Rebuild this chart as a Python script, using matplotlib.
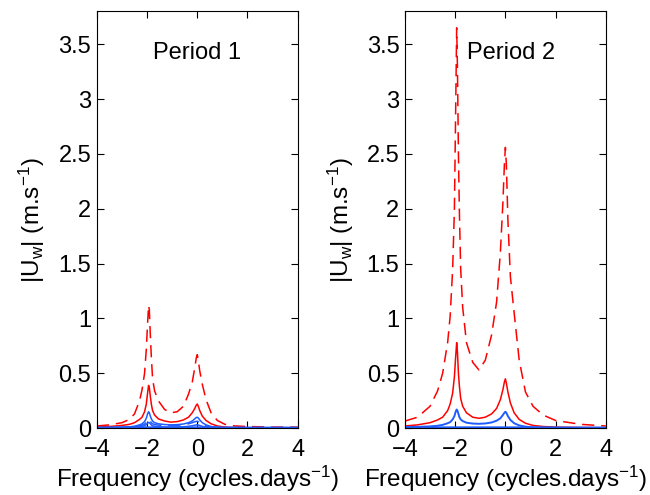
import matplotlib
matplotlib.use("Agg")
import matplotlib.pyplot as plt

plt.rcParams['font.family'] = ['Liberation Sans', 'DejaVu Sans']
plt.rcParams['mathtext.default'] = 'regular'

# frequency grid (cycles/day), dense around the two peaks
freq = [-4, -3.5, -3, -2.7, -2.5, -2.3, -2.2, -2.1, -2.03, -1.98, -1.94, -1.91,
        -1.87, -1.83, -1.78, -1.7, -1.55, -1.3, -1.05, -0.8, -0.55, -0.35, -0.2,
        -0.1, -0.04, 0, 0.04, 0.1, 0.2, 0.35, 0.55, 0.8, 1.1, 1.5, 2, 3, 4]

# Period 1
p1_red_dash = [0.02, 0.03, 0.05, 0.08, 0.13, 0.25, 0.35, 0.5, 0.72, 0.95, 1.12, 1.08,
               0.85, 0.65, 0.45, 0.34, 0.25, 0.17, 0.14, 0.15, 0.2, 0.31, 0.42,
               0.55, 0.64, 0.67, 0.62, 0.52, 0.4, 0.26, 0.14, 0.07, 0.035, 0.02, 0.015, 0.01, 0.01]
p1_red = [0.01, 0.015, 0.025, 0.035, 0.05, 0.08, 0.1, 0.15, 0.22, 0.32, 0.39, 0.37,
          0.29, 0.22, 0.16, 0.12, 0.085, 0.065, 0.055, 0.06, 0.075, 0.1, 0.14,
          0.18, 0.21, 0.22, 0.2, 0.16, 0.11, 0.07, 0.04, 0.02, 0.01, 0.006, 0.004, 0.003, 0.002]
p1_blue = [0.004, 0.005, 0.008, 0.012, 0.018, 0.03, 0.04, 0.06, 0.09, 0.13, 0.15, 0.14,
           0.11, 0.085, 0.065, 0.05, 0.04, 0.033, 0.03, 0.032, 0.038, 0.05, 0.065,
           0.085, 0.097, 0.1, 0.093, 0.075, 0.05, 0.03, 0.015, 0.008, 0.004, 0.003, 0.002, 0.001, 0.001]
p1_blue_dash = [0.003, 0.004, 0.006, 0.009, 0.013, 0.02, 0.027, 0.037, 0.052, 0.07, 0.08, 0.077,
                0.062, 0.05, 0.04, 0.033, 0.028, 0.025, 0.024, 0.026, 0.031, 0.04, 0.05,
                0.058, 0.062, 0.063, 0.059, 0.048, 0.033, 0.02, 0.01, 0.005, 0.003, 0.002, 0.001, 0.001, 0.001]
p1_blue_low = [0.002, 0.003, 0.004, 0.006, 0.008, 0.012, 0.016, 0.022, 0.032, 0.045, 0.052, 0.05,
               0.04, 0.03, 0.022, 0.017, 0.013, 0.011, 0.01, 0.011, 0.013, 0.017, 0.022,
               0.027, 0.03, 0.031, 0.029, 0.024, 0.017, 0.01, 0.006, 0.003, 0.002, 0.001, 0.001, 0.001, 0.001]

# Period 2
p2_red_dash = [0.065, 0.1, 0.2, 0.34, 0.5, 0.78, 1.02, 1.45, 2.0, 2.9, 3.65, 3.3,
               2.5, 1.95, 1.45, 1.1, 0.78, 0.6, 0.53, 0.62, 0.85, 1.15, 1.6,
               2.05, 2.4, 2.56, 2.4, 1.9, 1.38, 1.05, 0.62, 0.33, 0.2, 0.12, 0.07, 0.035, 0.02]
p2_red = [0.02, 0.03, 0.05, 0.075, 0.1, 0.16, 0.22, 0.32, 0.47, 0.65, 0.78, 0.7,
          0.5, 0.38, 0.27, 0.2, 0.14, 0.1, 0.09, 0.1, 0.13, 0.18, 0.26,
          0.35, 0.42, 0.45, 0.41, 0.33, 0.23, 0.14, 0.08, 0.045, 0.025, 0.015, 0.01, 0.006, 0.004]
p2_blue = [0.01, 0.012, 0.016, 0.022, 0.03, 0.045, 0.055, 0.08, 0.11, 0.15, 0.17, 0.16,
           0.13, 0.1, 0.08, 0.065, 0.05, 0.042, 0.04, 0.043, 0.052, 0.068, 0.09,
           0.12, 0.14, 0.15, 0.14, 0.11, 0.075, 0.045, 0.025, 0.014, 0.008, 0.005, 0.003, 0.002, 0.001]

# near-zero blue curve seen along the bottom of both panels
base_freq = [-4, -2, 0, 2, 4]
base_vals = [0.003, 0.004, 0.004, 0.002, 0.002]

red = '#ff0000'
blue = '#1f5cff'
dash = (0, (8, 4.5))

fig = plt.figure(figsize=(6.5, 4.95), dpi=100)
ax1 = fig.add_axes([0.149, 0.135, 0.309, 0.842])
ax2 = fig.add_axes([0.623, 0.135, 0.309, 0.842])

ax1.plot(freq, p1_red_dash, color=red, ls=dash, lw=1.1)
ax1.plot(freq, p1_red, color=red, lw=1.1)
ax1.plot(freq, p1_blue, color=blue, lw=1.1)
ax1.plot(freq, p1_blue_dash, color=blue, ls=dash, lw=1.1)
ax1.plot(freq, p1_blue_low, color=blue, lw=1.1)
ax1.plot(base_freq, base_vals, color=blue, lw=2)

ax2.plot(freq, p2_red_dash, color=red, ls=dash, lw=1.1)
ax2.plot(freq, p2_red, color=red, lw=1.1)
ax2.plot(freq, p2_blue, color=blue, lw=1.4)
ax2.plot(base_freq, base_vals, color=blue, lw=2)

for ax, title, tx in [(ax1, 'Period 1', 0.0), (ax2, 'Period 2', 0.22)]:
    ax.set_xlim(-4, 4)
    ax.set_ylim(0, 3.8)
    ax.set_xticks([-4, -2, 0, 2, 4])
    ax.set_yticks([0, 0.5, 1, 1.5, 2, 2.5, 3, 3.5])
    ax.set_yticklabels(['0', '0.5', '1', '1.5', '2', '2.5', '3', '3.5'])
    ax.tick_params(direction='in', top=True, right=True, length=5, width=0.8,
                   labelsize=17)
    ax.tick_params(axis='x', pad=8)
    ax.tick_params(axis='y', pad=4)
    for s in ax.spines.values():
        s.set_linewidth(0.8)
    ax.set_xlabel('Frequency (cycles.days$^{-1}$)', fontsize=17.5, labelpad=2)
    ax.set_ylabel('$|U_w|$ (m.s$^{-1}$)', fontsize=17.5, labelpad=8)
    ax.text(tx, 3.42, title, fontsize=17, ha='center', va='center')

fig.savefig('out.png', dpi=100)
